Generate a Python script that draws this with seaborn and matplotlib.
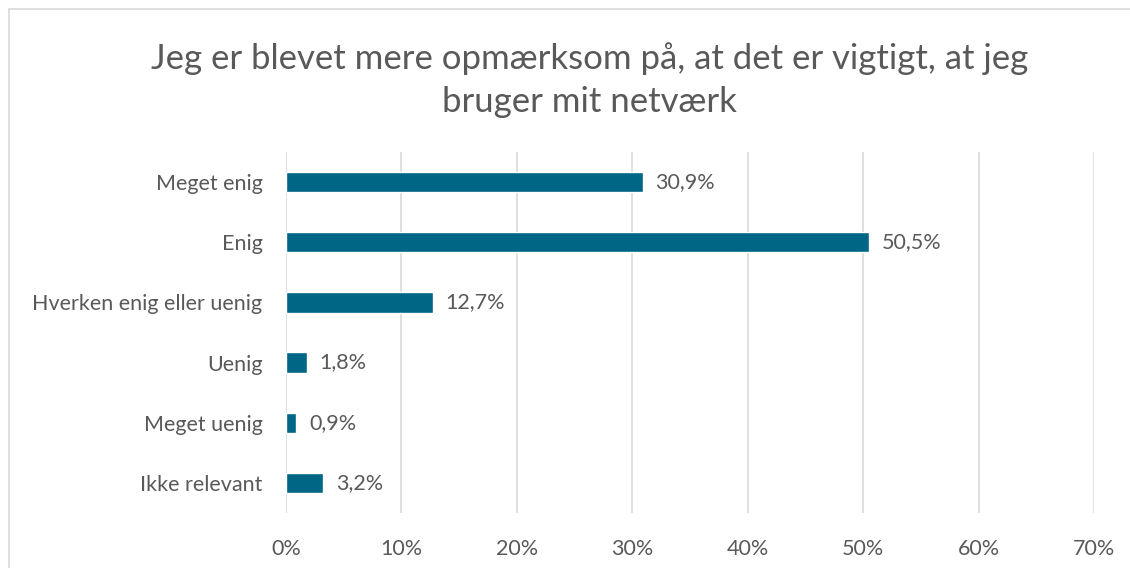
import matplotlib
matplotlib.use("Agg")
import matplotlib.pyplot as plt
import seaborn as sns
import pandas as pd
from matplotlib.patches import Rectangle
from matplotlib.ticker import FuncFormatter

categories = ["Meget enig", "Enig", "Hverken enig eller uenig", "Uenig", "Meget uenig", "Ikke relevant"]
values = [30.9, 50.5, 12.7, 1.8, 0.9, 3.2]
title = "Jeg er blevet mere opmærksom på, at det er vigtigt, at jeg\nbruger mit netværk"

df = pd.DataFrame({"Svar": categories, "Andel": values})

sns.set_style("white")
plt.rcParams["font.family"] = ["Lato", "DejaVu Sans"]
text_col = "#595959"

fig = plt.figure(figsize=(11.3, 5.68), dpi=100)
ax = fig.add_axes([0.2531, 0.0968, 0.7150, 0.6356])

sns.barplot(data=df, y="Svar", x="Andel", color="#006685", width=0.34,
            saturation=1, ax=ax)

ax.set_xlim(0, 70)
ax.set_ylim(5.5, -0.5)
ax.set_xticks(range(0, 71, 10))
ax.xaxis.set_major_formatter(FuncFormatter(lambda v, p: f"{v:.0f}%"))
ax.grid(True, axis="x", color="#d9d9d9", linewidth=1.2)
ax.set_axisbelow(True)
for s in ax.spines.values():
    s.set_visible(False)
ax.set_xlabel("")
ax.set_ylabel("")
ax.tick_params(axis="both", length=0, labelsize=15.5, colors=text_col)
ax.tick_params(axis="x", pad=19)
ax.tick_params(axis="y", pad=17)

for i, v in enumerate(values):
    ax.text(v + 1.1, i, f"{v:.1f}%".replace(".", ","), va="center", ha="left",
            fontsize=15.5, color=text_col)

fig.text(0.522, 0.859, title, ha="center", va="center", fontsize=25,
         color=text_col, linespacing=1.4)

fig.patches.append(Rectangle((9 / 1130, -0.1), 1.2, 1 - 9 / 568 + 0.1,
                             transform=fig.transFigure, fill=False,
                             edgecolor="#d9d9d9", linewidth=1.2))

fig.savefig("out.png", dpi=100)
